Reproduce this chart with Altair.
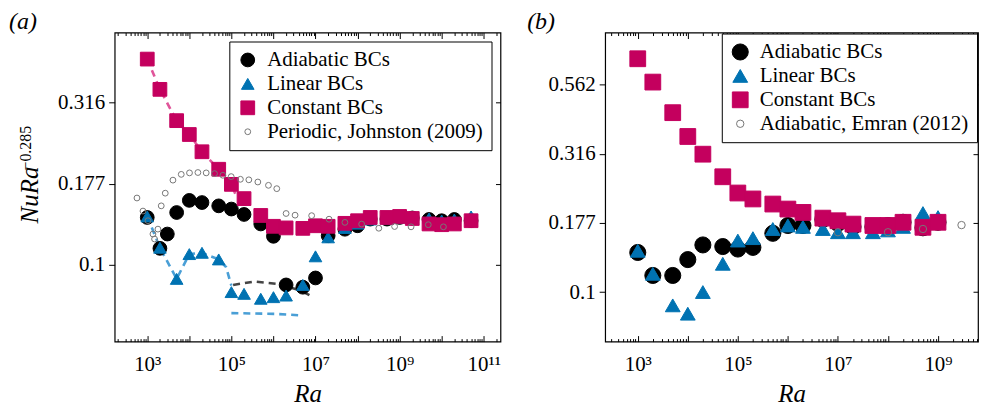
import altair as alt
import pandas as pd

FONT = "Liberation Serif, Times New Roman, DejaVu Serif, serif"
BLACK = "#000000"
BLUE = "#0072B2"
MAGENTA = "#C4005E"
OPEN = "#777777"

# ---------------- panel (a) ----------------
a_adi_ra = [1e3, 2e3, 3e3, 5e3, 1e4, 2e4, 5e4, 1e5, 2e5, 5e5, 1e6, 2e6, 5e6, 1e7, 2e7, 5e7,
            1e8, 2e8, 5e8, 1e9, 2e9, 5e9, 1e10, 2e10, 5e10]
a_adi_v = [0.140, 0.1125, 0.1245, 0.145, 0.158, 0.1556, 0.152, 0.1486, 0.143, 0.1337, 0.1225,
           0.0868, 0.0854, 0.0912, 0.123, 0.1288, 0.132, 0.1384, 0.1384, 0.140, 0.1395, 0.138,
           0.1368, 0.138, 0.1368]
a_lin_ra = [1e3, 2e3, 5e3, 1e4, 2e4, 5e4, 1e5, 2e5, 5e5, 1e6, 2e6, 5e6, 1e7, 2e7, 5e7, 1e8,
            2e8, 5e8, 1e9, 2e9, 5e9, 1e10, 2e10, 5e10]
a_lin_v = [0.141, 0.113, 0.0906, 0.108, 0.109, 0.104, 0.0825, 0.0815, 0.0787, 0.0796, 0.0805,
           0.0868, 0.1063, 0.1216, 0.130, 0.134, 0.138, 0.139, 0.140, 0.140, 0.139, 0.137,
           0.138, 0.141]
a_con_ra = a_lin_ra
a_con_v = [0.430, 0.347, 0.278, 0.252, 0.223, 0.197, 0.177, 0.160, 0.142, 0.1315, 0.130, 0.1296,
           0.132, 0.1315, 0.1343, 0.1368, 0.140, 0.140, 0.141, 0.139, 0.1337, 0.133, 0.1337,
           0.1368]
a_ref_ra = [569, 791, 1040, 1366, 1490, 1795, 2150, 2680, 4080, 6430, 1.01e4, 1.6e4, 2.52e4,
            3.97e4, 6.28e4, 9.89e4, 1.64e5, 2.6e5, 4.26e5, 7.62e5, 1.2e6, 2.0e6, 3.27e6, 8.1e6,
            2.1e7, 5.0e7, 1.25e8, 3.2e8, 7.6e8, 1.87e9, 4.8e9, 1.1e10]
a_ref_v = [0.1607, 0.1465, 0.1368, 0.1245, 0.1202, 0.1289, 0.152, 0.1663, 0.1824, 0.190, 0.192,
           0.1925, 0.192, 0.191, 0.1888, 0.187, 0.1835, 0.1828, 0.180, 0.1758, 0.1717, 0.144,
           0.1423, 0.1418, 0.1383, 0.1352, 0.1336, 0.1297, 0.1313, 0.131, 0.133, 0.131]
a_series = ["Adiabatic BCs", "Linear BCs", "Constant BCs", "Periodic, Johnston (2009)"]

# dashed curves in panel (a)
a_pink_ra = [1e3, 2e3, 5e3, 1e4, 2e4, 5e4, 1e5, 1.3e5]
a_pink_v = [0.430, 0.347, 0.278, 0.252, 0.223, 0.197, 0.177, 0.163]
a_blue_ra = [1e3, 2e3, 5e3, 1e4, 2e4, 5e4, 7.5e4, 1e5]
a_blue_v = [0.141, 0.113, 0.0906, 0.108, 0.109, 0.104, 0.0984, 0.0864]
a_gray_ra = [1.1e5, 3.5e5, 1.27e6, 4.5e6, 7.5e6]
a_gray_v = [0.0868, 0.0889, 0.0874, 0.0834, 0.0805]
a_blow_ra = [1e5, 1.05e6, 4.2e6]
a_blow_v = [0.0711, 0.0707, 0.0700]

# ---------------- panel (b) ----------------
b_ra = [1e3, 2e3, 5e3, 1e4, 2e4, 5e4, 1e5, 2e5, 5e5, 1e6, 2e6, 5e6, 1e7, 2e7, 5e7, 1e8, 2e8,
        5e8, 1e9]
b_adi_v = [0.139, 0.1148, 0.1148, 0.131, 0.148, 0.146, 0.143, 0.145, 0.163, 0.174, 0.174,
           0.183, 0.177, 0.172, 0.172, 0.174, 0.1787, 0.1707, 0.1787]
b_lin_v = [0.141, 0.1164, 0.0895, 0.0835, 0.100, 0.1265, 0.1535, 0.1566, 0.169, 0.174, 0.172,
           0.169, 0.1645, 0.1645, 0.1645, 0.167, 0.172, 0.193, 0.1866]
b_con_v = [0.697, 0.574, 0.445, 0.365, 0.315, 0.261, 0.228, 0.217, 0.208, 0.1995, 0.194, 0.185,
           0.181, 0.176, 0.174, 0.174, 0.1787, 0.1714, 0.1787]
b_ref_ra = [1e7, 1e8, 5e8, 2.95e9]
b_ref_v = [0.1645, 0.1645, 0.169, 0.1746]
b_series = ["Adiabatic BCs", "Linear BCs", "Constant BCs", "Adiabatic, Emran (2012)"]

# ---------------- ticks ----------------
x_label_vals = [1e3, 1e5, 1e7, 1e9, 1e11]
x_label_text = ["10³", "10⁵", "10⁷", "10⁹", "10¹¹"]
y_tick_vals_a = [0.1, 0.17783, 0.31623]
y_tick_vals_b = [0.1, 0.17783, 0.31623, 0.56234]
y_tick_text = {0.1: "0.1", 0.17783: "0.177", 0.31623: "0.316", 0.56234: "0.562"}


def label_expr(vals, texts):
    parts = [f"abs(datum.value - {v!r}) < {v * 1e-6!r} ? '{t}'" for v, t in zip(vals, texts)]
    return " : ".join(parts) + " : ''"


def series_df(groups):
    rows = []
    k = 0
    for name, ras, vs in groups:
        for r, v in zip(ras, vs):
            rows.append({"series": name, "Ra": r, "v": v, "k": k})
            k += 1
    return pd.DataFrame(rows)


def line_df(ras, vs):
    return pd.DataFrame({"Ra": ras, "v": vs})


def panel(df, order, sizes, lines, xdom, ydom, yvals, decades, minors, title, width, height,
          title_dx, extra, leg_offset):
    xs = alt.Scale(type="log", domain=xdom, nice=False)
    ys = alt.Scale(type="log", domain=ydom, nice=False)
    leg = alt.Legend(title=None, orient="top-right", offset=leg_offset, strokeColor="black",
                     fillColor="white", padding=8, labelFont=FONT, labelFontSize=21,
                     labelColor="black", labelOffset=9, rowPadding=2, symbolStrokeWidth=1,
                     labelLimit=500, cornerRadius=0)
    shapes = ["circle", "triangle-up", "square", "circle"]
    fills = [BLACK, BLUE, MAGENTA, "transparent"]
    strokes = [BLACK, BLUE, MAGENTA, OPEN]

    layers = []
    for ldf, color, dash in lines:
        layers.append(alt.Chart(ldf).mark_line(color=color, strokeDash=dash, strokeWidth=2.6).encode(
            x=alt.X("Ra:Q", scale=xs, axis=None),
            y=alt.Y("v:Q", scale=ys, axis=None)))

    ytxt = [y_tick_text[v] for v in yvals]
    pts = alt.Chart(df).mark_point(opacity=1, strokeWidth=1).encode(
        x=alt.X("Ra:Q", scale=xs, axis=alt.Axis(
            orient="bottom", values=decades, labelExpr=label_expr(x_label_vals, x_label_text),
            tickSize=6, offset=-6, domain=False, grid=False, tickColor="black",
            labelFont=FONT, labelFontSize=21, labelColor="black", labelPadding=12,
            labelFlush=False, labelOverlap=False, title="Ra", titleFont=FONT,
            titleFontSize=25, titleFontStyle="italic", titleFontWeight="normal",
            titleColor="black", titlePadding=7)),
        y=alt.Y("v:Q", scale=ys, axis=alt.Axis(
            orient="left", values=yvals, labelExpr=label_expr(yvals, ytxt), tickSize=6,
            domain=False, grid=False, tickColor="black", labelFont=FONT, labelFontSize=21,
            labelColor="black", labelPadding=4, labelOverlap=False, title=None)),
        shape=alt.Shape("series:N", scale=alt.Scale(domain=order, range=shapes), legend=leg),
        fill=alt.Fill("series:N", scale=alt.Scale(domain=order, range=fills), legend=leg),
        stroke=alt.Stroke("series:N", scale=alt.Scale(domain=order, range=strokes), legend=leg),
        size=alt.Size("series:N", scale=alt.Scale(type="ordinal", domain=order, range=sizes),
                      legend=leg),
        order=alt.Order("k:Q"),
    )
    layers.append(pts)

    ghost = alt.Chart(df).mark_point(opacity=0)
    top_major = ghost.encode(
        x=alt.X("Ra:Q", scale=xs, axis=alt.Axis(orient="top", values=decades, labels=False,
                                                tickSize=6, offset=-6, domain=False, grid=False,
                                                tickColor="black", title=None)),
        y=alt.Y("v:Q", scale=ys, axis=alt.Axis(orient="right", values=yvals, labels=False,
                                               tickSize=5, offset=-5, domain=False, grid=False,
                                               tickColor="black", title=None)))
    bot_minor = ghost.encode(
        x=alt.X("Ra:Q", scale=xs, axis=alt.Axis(orient="bottom", values=minors, labels=False,
                                                tickSize=3, offset=-3, domain=False, grid=False,
                                                tickColor="black", title=None)),
        y=alt.Y("v:Q", scale=ys, axis=None))
    top_minor = ghost.encode(
        x=alt.X("Ra:Q", scale=xs, axis=alt.Axis(orient="top", values=minors, labels=False,
                                                tickSize=3, offset=-3, domain=False, grid=False,
                                                tickColor="black", title=None)),
        y=alt.Y("v:Q", scale=ys, axis=None))
    layers += [top_major, bot_minor, top_minor]
    layers += extra

    return alt.layer(*layers).resolve_axis(x="independent", y="independent").properties(
        width=width, height=height,
        title=alt.TitleParams(title, anchor="start", frame="bounds", font=FONT, fontSize=24,
                              fontStyle="italic", fontWeight="normal", color="black", offset=-2,
                              dx=title_dx))


def minor_ticks(lo, hi):
    out = []
    for e in range(2, 12):
        for m in range(2, 10):
            v = m * 10 ** e
            if lo <= v <= hi:
                out.append(float(v))
    return out


xdom_a = [168.0, 2.5e11]
xdom_b = [223.0, 6.3e9]
df_a = series_df([(a_series[0], a_adi_ra, a_adi_v), (a_series[1], a_lin_ra, a_lin_v),
                  (a_series[2], a_con_ra, a_con_v), (a_series[3], a_ref_ra, a_ref_v)])
df_b = series_df([(b_series[0], b_ra, b_adi_v), (b_series[1], b_ra, b_lin_v),
                  (b_series[2], b_ra, b_con_v), (b_series[3], b_ref_ra, b_ref_v)])

lines_a = [
    (line_df(a_pink_ra, a_pink_v), "#E0559A", [7, 5]),
    (line_df(a_blue_ra, a_blue_v), "#4A9FD6", [7, 5]),
    (line_df(a_gray_ra, a_gray_v), "#444444", [7, 5]),
    (line_df(a_blow_ra, a_blow_v), "#4A9FD6", [7, 5]),
]

yname = alt.Chart(pd.DataFrame({"t": ["NuRa"]})).mark_text(
    font=FONT, fontSize=25, fontStyle="italic", angle=270, align="center", baseline="middle",
    color="black").encode(text="t:N", x=alt.value(-85), y=alt.value(163))
ysup = alt.Chart(pd.DataFrame({"t": ["−0.285"]})).mark_text(
    font=FONT, fontSize=16, angle=270, align="center", baseline="middle",
    color="black").encode(text="t:N", x=alt.value(-89), y=alt.value(116))

pa = panel(df_a, a_series, [190, 160, 190, 34], lines_a, xdom_a, [0.0581, 0.519],
           y_tick_vals_a, [float(10 ** e) for e in range(3, 12)],
           minor_ticks(*xdom_a), "(a)", 387, 310, -9, [yname, ysup], 9)

pb = panel(df_b, b_series, [260, 220, 250, 55], [], xdom_b, [0.0662, 0.867],
           y_tick_vals_b, [float(10 ** e) for e in range(3, 10)],
           minor_ticks(*xdom_b), "(b)", 374, 310, -21, [], 1)

chart = alt.hconcat(pa, pb, spacing=24).resolve_scale(
    shape="independent", fill="independent", stroke="independent", size="independent"
).resolve_legend(
    shape="independent", fill="independent", stroke="independent", size="independent"
).properties(
    padding={"left": 0, "top": 0, "right": 0, "bottom": 0}
).configure_view(stroke="black", strokeWidth=1.2)
chart.save("out.html", embed_options={"renderer": "svg", "actions": False})
